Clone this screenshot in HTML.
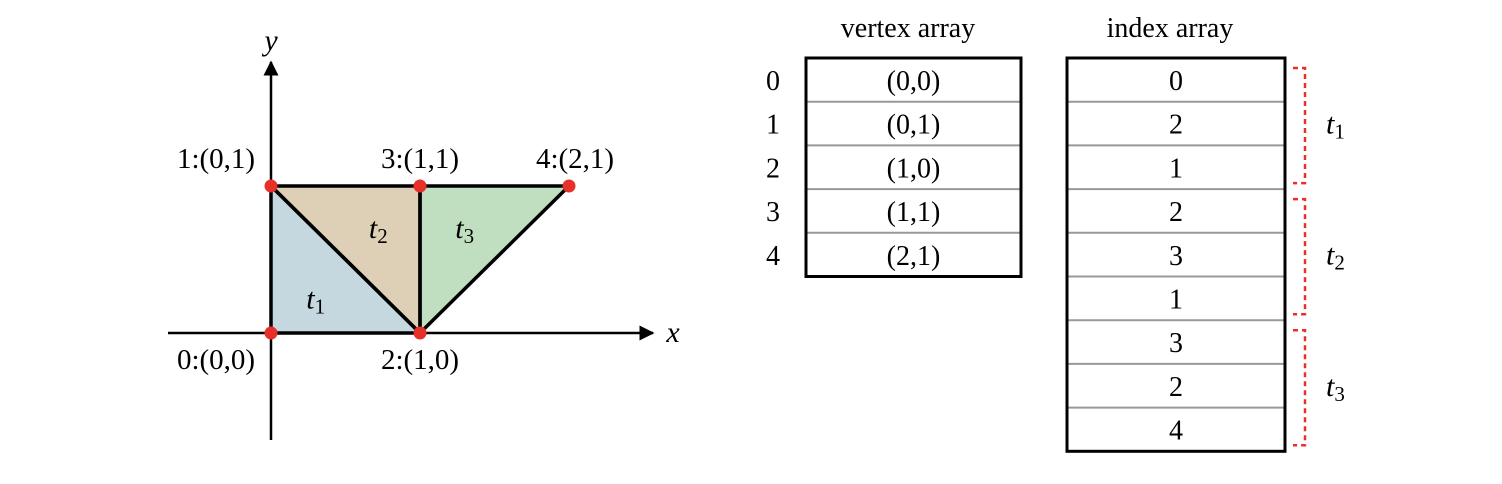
<!DOCTYPE html>
<html><head><meta charset="utf-8"><style>
html,body{margin:0;padding:0;background:#fff;}
svg{display:block;font-family:"Liberation Serif",serif;}
</style></head><body>
<svg width="1502" height="484" viewBox="0 0 1502 484">
<defs>
<marker id="arr" viewBox="0 0 10 10" refX="9" refY="5" markerWidth="6" markerHeight="6" orient="auto"><path d="M0,0L10,5L0,10z" fill="#000"/></marker>
</defs>
<g id="plot"></g>
<g id="tables"></g>
</svg>
<script>
const vertX=[0,0,1,1,2];
const vertY=[0,1,0,1,1];
const tris=[[0,2,1],[2,3,1],[3,2,4]];
const triNames=["1","2","3"];
const triColors=["#c5d7df","#ddd0b6","#c0dfc0"];
const NS="http://www.w3.org/2000/svg";
function mk(tag,attrs,parent,txt){const e=document.createElementNS(NS,tag);for(const k in attrs)e.setAttribute(k,attrs[k]);if(txt!==undefined)e.textContent=txt;parent.appendChild(e);return e;}
const sx=v=>271+v*149;
const sy=v=>333-v*147;
const P=document.getElementById('plot');
tris.forEach((t,i)=>{
 const pts=t.map(k=>sx(vertX[k])+','+sy(vertY[k])).join(' ');
 const p=mk('polygon',{points:pts,fill:triColors[i],stroke:'none'},P);
 
 
});
const xa=mk('line',{x1:168,y1:sy(0),x2:653,y2:sy(0),stroke:'#000','stroke-width':2.5,'marker-end':'url(#arr)'},P);


const ya=mk('line',{x1:sx(0),y1:440,x2:sx(0),y2:62,stroke:'#000','stroke-width':2.5,'marker-end':'url(#arr)'},P);


tris.forEach((t,i)=>{
 const pts=t.map(k=>sx(vertX[k])+','+sy(vertY[k])).join(' ');
 const e=mk('polygon',{points:pts,fill:'none',stroke:'#000','stroke-width':3.5,'stroke-linejoin':'round'},P);
 
 
});
const tl=mk('text',{x:673,y:342,'font-size':30,'font-style':'italic','text-anchor':'middle'},P,'x');


const yl=mk('text',{x:271,y:50,'font-size':30,'font-style':'italic','text-anchor':'middle'},P,'y');


const lblPos=[[0.3,0.22],[0.72,0.7],[1.3,0.7]];
tris.forEach((t,i)=>{
 const g=mk('text',{x:sx(lblPos[i][0]),y:sy(lblPos[i][1])+8,'font-size':30,'font-style':'italic','text-anchor':'middle'},P);
 
 
 mk('tspan',{},g,'t');mk('tspan',{'font-size':21,'font-style':'normal',dy:5},g,triNames[i]);
});
vertX.forEach((vx,i)=>{
 const c=mk('circle',{cx:sx(vx),cy:sy(vertY[i]),r:6.5,fill:'#e8302a'},P);
 
 
 const above=vertY[i]===1;
 const lx=vx===0?sx(vx)-55:sx(vx)+(vx===2?6:0);
 const t=mk('text',{x:lx,y:above?sy(vertY[i])-18:sy(vertY[i])+36,'font-size':29,'text-anchor':'middle'},P,i+':('+vx+','+vertY[i]+')');
 
 
});
const T=document.getElementById('tables');
const rowH=43.7, tableTop=58;
function table(x,w,cells,name){
 const g=mk('g',{},T);
 
 
 cells.forEach((c,i)=>{
  if(i>0)mk('line',{x1:x,x2:x+w,y1:tableTop+i*rowH,y2:tableTop+i*rowH,stroke:'#999','stroke-width':2},g);
  const t=mk('text',{x:x+w/2,y:tableTop+i*rowH+32,'font-size':28,'text-anchor':'middle'},g,c);
  
  
 });
 mk('rect',{x:x,y:tableTop,width:w,height:cells.length*rowH,fill:'none',stroke:'#000','stroke-width':3},g);
}
table(806,215,vertX.map((v,i)=>'('+v+','+vertY[i]+')'),'vertex-array');
const idx=[].concat(...tris);
table(1067,218,idx.map(String),'index-array');
vertX.forEach((v,i)=>{
 const t=mk('text',{x:773,y:tableTop+i*rowH+32,'font-size':28,'text-anchor':'middle'},T,String(i));
 
 
});
let h=mk('text',{x:908,y:37,'font-size':28,'text-anchor':'middle'},T,'vertex array');


h=mk('text',{x:1170,y:37,'font-size':28,'text-anchor':'middle'},T,'index array');


tris.forEach((t,i)=>{
 const y1=tableTop+i*3*rowH+10,y2=tableTop+(i+1)*3*rowH-6;
 const b=mk('path',{d:`M1293,${y1}H1305V${y2}H1293`,fill:'none',stroke:'#e8302a','stroke-width':2.5,'stroke-dasharray':'5,4'},T);
 
 
 const g=mk('text',{x:1326,y:(y1+y2)/2+8,'font-size':30,'font-style':'italic'},T);
 
 
 mk('tspan',{},g,'t');mk('tspan',{'font-size':21,'font-style':'normal',dy:5},g,triNames[i]);
});
</script>
</body></html>
